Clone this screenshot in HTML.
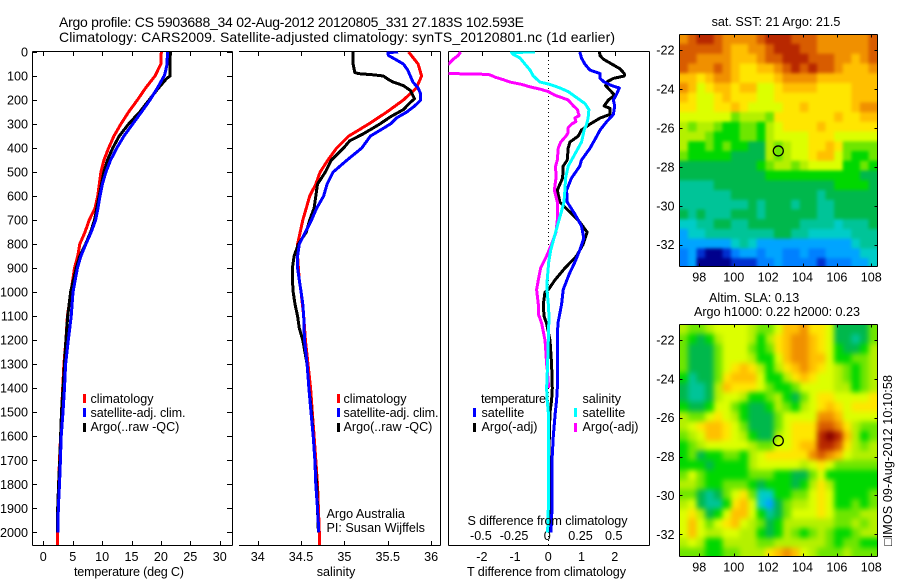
<!DOCTYPE html>
<html lang="en">
<head>
<meta charset="utf-8">
<title>Argo profile 5903688_34</title>
<style>
html,body{margin:0;padding:0;background:#fff;}
svg{display:block;}
text{font-family:"Liberation Sans",sans-serif;font-size:12.6px;fill:#000;}
.title{font-size:14px;}
</style>
</head>
<body>
<svg id="figure" xmlns="http://www.w3.org/2000/svg" width="900" height="580" viewBox="0 0 900 580">
<defs>
<clipPath id="clip-temp"><rect x="32.5" y="51.5" width="200" height="494"/></clipPath>
<clipPath id="clip-sal"><rect x="239" y="51.5" width="202" height="494"/></clipPath>
<clipPath id="clip-diff"><rect x="448.5" y="51.5" width="201" height="494"/></clipPath>
<clipPath id="clip-sst"><rect x="679.5" y="34.5" width="198" height="232"/></clipPath>
<clipPath id="clip-sla"><rect x="679.5" y="324.5" width="198" height="232"/></clipPath>
<filter id="soften-sst" filterUnits="userSpaceOnUse" x="650" y="5" width="250" height="290" color-interpolation-filters="sRGB"><feGaussianBlur stdDeviation="1.6"/></filter>
<filter id="soften-sla" filterUnits="userSpaceOnUse" x="650" y="295" width="250" height="285" color-interpolation-filters="sRGB"><feGaussianBlur stdDeviation="2.6"/></filter>
</defs>
<rect x="0" y="0" width="900" height="580" fill="#fff"/>

<text class="title" x="59" y="27" textLength="465">Argo profile: CS 5903688_34 02-Aug-2012 20120805_331 27.183S 102.593E</text>
<text class="title" x="59" y="42" textLength="556">Climatology: CARS2009. Satellite-adjusted climatology: synTS_20120801.nc (1d earlier)</text>

<g id="panel-temp"></g>
<g id="panel-sal"></g>
<g id="panel-diff"></g>
<g id="map-sst"></g>
<g id="map-sla"></g>

<text x="74" y="576" textLength="110">temperature (deg C)</text>
<text x="336" y="576" text-anchor="middle">salinity</text>
<text x="467" y="576" textLength="159">T difference from climatology</text>
<text x="467.5" y="525" textLength="160">S difference from climatology</text>

<g>
<rect x="83" y="394" width="3" height="9" fill="#f00"/>
<text x="90.5" y="403">climatology</text>
<rect x="83" y="408" width="3" height="9" fill="#00f"/>
<text x="90.5" y="417" textLength="95">satellite-adj. clim.</text>
<rect x="83" y="423" width="3" height="9" fill="#000"/>
<text x="90.5" y="431">Argo(..raw -QC)</text>
</g>
<g>
<rect x="337" y="394" width="3" height="9" fill="#f00"/>
<text x="343.5" y="403">climatology</text>
<rect x="337" y="408" width="3" height="9" fill="#00f"/>
<text x="343.5" y="417" textLength="95">satellite-adj. clim.</text>
<rect x="337" y="423" width="3" height="9" fill="#000"/>
<text x="343.5" y="431">Argo(..raw -QC)</text>
</g>
<g>
<text x="481" y="403" textLength="65">temperature</text>
<rect x="473" y="408" width="3" height="9" fill="#00f"/>
<text x="481.5" y="417">satellite</text>
<rect x="473" y="423" width="3" height="9" fill="#000"/>
<text x="481.5" y="431">Argo(-adj)</text>
<text x="582.5" y="403">salinity</text>
<rect x="574" y="408" width="3" height="9" fill="#0ff"/>
<text x="582.5" y="417">satellite</text>
<rect x="574" y="423" width="3" height="9" fill="#f0f"/>
<text x="582.5" y="431">Argo(-adj)</text>
</g>

<text x="326.5" y="518">Argo Australia</text>
<text x="326.5" y="532">PI: Susan Wijffels</text>

<text x="776" y="26" text-anchor="middle">sat. SST: 21 Argo: 21.5</text>
<text x="709" y="302">Altim. SLA: 0.13</text>
<text x="694" y="316" textLength="166">Argo h1000: 0.22 h2000: 0.23</text>
<text transform="translate(892,546) rotate(-90)" textLength="171">&#9633;IMOS 09-Aug-2012 10:10:58</text>
</svg>

<script>
// ---- profile panel ticks ----
const depthTicks = [0,100,200,300,400,500,600,700,800,900,1000,1100,1200,1300,1400,1500,1600,1700,1800,1900,2000];
const tempTicks = [0,5,10,15,20,25,30];
const salTicks = [34,34.5,35,35.5,36];
const tDiffTicks = [-2,-1,0,1,2];
const tDiffTopTicks = [-2,0,2];
const sDiffTicks = [-0.5,-0.25,0,0.25,0.5];
const sDiffTickLabels = ['-0.5','-0.25','0','0.25','0.5'];
const lonTicks = [98,100,102,104,106,108];
const latTicks = [-22,-24,-26,-28,-30,-32];

// ---- temperature profiles (depth m, deg C) ----
const tempClimDepths = [0,50,100,150,200,250,300,350,400,450,500,600,650,700,750,800,850,900,1000,1100,1200,1300,1400,1500,1600,1700,1800,1900,2000,2052];
const tempClimValues = [20.07,20,19,17.4,16,14.5,13.2,12,11.1,10.3,9.8,9.25,8.8,7.8,7.1,6.2,5.85,5.3,4.7,4.1,3.85,3.5,3.3,3.1,2.95,2.75,2.6,2.5,2.4,2.4];
const tempArgoDepths = [0,100,110,150,200,250,300,350,400,450,500,550,600,650,700,750,800,850,900,1000,1100,1200,1300,1400,1500,1600,1700,1800,1900,2000];
const tempArgoValues = [21.6,21.55,21,19.6,18,16.4,14.5,12.9,11.8,10.9,10.3,9.9,9.5,9.1,8.7,8.05,7.2,6.2,5.6,4.65,4.15,3.85,3.6,3.35,3.1,2.95,2.8,2.6,2.45,2.4];
const tempSatDepths = [0,50,90,100,150,200,250,300,350,400,450,500,550,600,650,700,750,800,850,900,1000,1100,1200,1300,1400,1500,1600,1700,1800,1900,2000];
const tempSatValues = [21.1,21.05,20.7,20.55,19.4,18.15,16.7,15.2,13.7,12.5,11.45,10.65,10.05,9.65,9.3,8.9,8.15,7.25,6.4,5.8,5.05,4.75,4.25,3.8,3.6,3.35,3.05,2.9,2.75,2.55,2.5];

// ---- salinity profiles ----
const salClimDepths = [0,50,100,150,200,250,300,350,400,450,500,550,600,650,700,750,800,850,900,950,1000,1050,1100,1200,1300,1400,1500,1600,1700,1800,1900,2000,2052];
const salClimValues = [35.74,35.85,35.89,35.83,35.68,35.49,35.28,35.05,34.91,34.81,34.72,34.67,34.6,34.56,34.52,34.49,34.46,34.46,34.47,34.48,34.5,34.515,34.53,34.55,34.58,34.61,34.63,34.65,34.67,34.69,34.7,34.71,34.71];
const salArgoDepths = [0,50,85,90,95,100,115,125,140,160,195,210,240,270,300,340,370,400,450,500,550,600,650,700,750,800,850,900,950,1000,1050,1100,1150,1200,1300,1400,1500,1600,1700,1800,1900,2000];
const salArgoValues = [35.1,35.1,35.12,35.16,35.33,35.45,35.51,35.56,35.68,35.76,35.81,35.76,35.68,35.53,35.41,35.22,35.06,34.99,34.85,34.78,34.69,34.67,34.65,34.6,34.56,34.47,34.42,34.4,34.4,34.41,34.43,34.46,34.48,34.52,34.57,34.59,34.62,34.64,34.66,34.68,34.69,34.7];
const salSatDepths = [0,2,5,15,25,50,75,100,125,150,175,200,225,250,275,300,350,400,450,500,550,600,650,700,750,800,850,900,950,1000,1050,1100,1200,1300,1400,1500,1600,1700,1800,1900,2000];
const salSatValues = [35.62,35.51,35.5,35.51,35.56,35.68,35.73,35.76,35.79,35.85,35.88,35.88,35.81,35.72,35.6,35.53,35.3,35.2,35.03,34.87,34.8,34.76,34.68,34.62,34.55,34.48,34.46,34.46,34.48,34.5,34.52,34.53,34.54,34.57,34.59,34.615,34.64,34.66,34.67,34.69,34.705];

// ---- difference-from-climatology profiles ----
const tDiffArgoDepths = [0,15,30,50,70,90,100,110,125,140,160,180,200,225,235,260,275,300,325,350,375,400,450,475,525,575,625,650,700,750,800,850,900,950,990,1000,1050,1100,1130,1200,1300,1400,1450,1500,1600,1700,1800,1900,2000];
const tDiffArgoValues = [1.54,1.56,1.66,1.91,2.16,2.29,2.29,1.96,1.76,1.73,1.86,2,1.81,1.68,1.86,1.86,1.56,1.26,1,0.9,0.65,0.6,0.57,0.45,0.43,0.27,0.35,0.53,0.9,1.17,1.05,0.85,0.5,0.2,0,-0.1,-0.15,-0.13,-0.05,0.05,0.1,0.12,0.1,0.05,0.03,0.02,0.03,0.05,0.05];
const tDiffSatDepths = [0,25,50,75,90,110,125,140,150,175,200,225,260,290,325,350,400,450,475,525,575,625,675,725,775,825,875,925,990,1050,1100,1130,1200,1300,1400,1450,1500,1550,1600,1700,1800,1900,2000];
const tDiffSatValues = [0.95,1,1.1,1.25,1.56,1.56,1.68,1.91,2.14,2.06,1.96,2,1.96,1.76,1.56,1.46,1.26,1,0.95,0.7,0.55,0.57,0.8,1,1.07,0.95,0.8,0.63,0.45,0.4,0.33,0.29,0.27,0.28,0.27,0.25,0.21,0.18,0.15,0.11,0.11,0.11,0.08];
const sDiffArgoDepths = [0,15,30,50,70,90,92,95,105,115,125,135,145,155,165,180,190,200,225,240,255,265,275,290,300,315,335,350,375,400,450,475,525,575,625,700,750,800,850,900,950,990,1050,1090,1130,1200,1250,1300,1320,1400];
const sDiffArgoValues = [-0.66,-0.68,-0.715,-0.75,-1,-0.74,-0.515,-0.44,-0.4,-0.34,-0.29,-0.2,-0.14,-0.06,0,0.05,0.1,0.15,0.19,0.22,0.226,0.233,0.2,0.208,0.176,0.15,0.15,0.133,0.093,0.075,0.068,0.055,0.058,0.045,0.068,0.068,0.058,0.025,-0.013,-0.058,-0.075,-0.088,-0.075,-0.075,-0.05,-0.025,-0.018,-0.013,-0.008,0.003];
const sDiffSatDepths = [0,2,10,25,50,75,100,125,135,150,165,190,215,240,275,300,325,375,425,475,525,575,625,675,725,775,825,875,950,1000,1050,1100,1200,1300,1400,1450,1500,1600,1700,1800,1900,2000];
const sDiffSatValues = [-0.1,-0.276,-0.264,-0.213,-0.176,-0.138,-0.113,-0.063,0.013,0.088,0.15,0.213,0.276,0.306,0.3,0.289,0.27,0.25,0.2,0.15,0.13,0.125,0.118,0.093,0.068,0.043,0.018,0.003,-0.008,-0.008,0,0.005,0,-0.005,-0.013,-0.008,0,0,0,0,0,-0.005];

// ---- map fields: colour level per half-degree cell, north to south ----
const sstLevels = [
[13,14,15,15,14,13,13,13,13,14,15,15,15,14,14,14,13,13,13,13,13,13,14],
[14,14,14,14,14,13,12,12,13,13,14,15,15,15,14,14,13,13,13,13,13,13,14],
[14,14,13,13,13,13,12,12,12,13,14,14,15,15,15,14,14,14,13,13,12,13,14],
[14,13,13,13,14,13,12,11,11,12,12,13,14,15,14,15,14,14,13,12,12,12,13],
[12,12,11,12,13,13,12,11,11,11,11,12,13,13,13,13,12,12,12,12,12,12,12],
[13,12,10,11,12,12,11,12,12,10,10,11,12,12,12,12,11,11,11,11,12,12,12],
[12,11,10,10,11,12,11,11,11,10,10,11,11,11,11,11,11,11,11,11,12,12,12],
[11,11,10,10,11,11,12,11,10,10,10,10,11,11,12,11,11,11,11,11,12,13,13],
[10,10,10,10,10,10,8,9,9,9,8,11,11,11,11,11,11,11,12,11,11,12,12],
[9,8,9,9,8,7,7,8,8,7,9,10,11,11,11,11,12,11,11,11,11,11,11],
[9,9,9,8,7,7,7,8,8,7,9,10,10,10,10,11,11,11,10,10,10,10,10],
[9,7,7,8,7,8,7,7,6,6,9,8,9,10,10,11,11,12,11,8,8,8,8],
[8,7,7,7,7,7,6,6,6,6,9,8,9,10,10,11,12,12,10,8,7,7,8],
[6,6,6,6,6,6,6,6,6,7,8,9,9,8,9,10,10,10,10,7,7,8,7],
[6,6,6,6,6,6,6,6,6,6,7,7,7,7,7,7,7,7,7,7,7,6,6],
[5,5,5,5,6,6,6,6,6,6,6,6,6,6,6,6,6,6,7,7,7,7,6],
[5,5,5,5,5,5,6,6,6,6,6,6,6,6,6,6,5,6,6,6,6,6,6],
[5,5,5,5,5,5,5,5,6,5,6,6,6,5,6,6,5,5,6,6,6,6,6],
[6,5,6,5,5,5,6,6,6,5,6,6,6,6,6,6,5,5,6,6,6,6,6],
[4,4,5,5,6,6,5,5,6,6,6,6,6,6,5,5,5,5,4,5,5,5,6],
[3,4,4,5,5,5,5,5,5,5,5,6,6,5,5,4,4,4,4,4,5,5,5],
[3,3,3,3,3,3,4,5,4,3,3,3,3,3,3,3,3,3,3,3,4,5,5],
[2,3,1,0,0,1,2,3,3,2,3,3,2,2,3,2,2,3,3,3,3,4,4],
[2,3,0,0,0,0,1,1,1,2,2,3,2,2,2,2,1,2,2,2,3,3,4]
];
const slaLevels = [
[9,8,8,9,10,10,10,10,9,8,8,10,12,12,13,11,11,10,6,6,6,6,8],
[8,7,6,7,9,10,10,10,9,7,9,11,12,13,13,12,11,10,6,6,5,6,8],
[8,6,6,6,8,10,10,10,8,7,8,11,12,13,13,12,11,10,7,6,6,7,9],
[8,6,6,6,8,10,10,10,9,7,7,10,12,13,13,12,12,10,7,7,8,8,9],
[8,6,6,6,8,10,11,12,11,9,7,9,11,12,13,12,11,10,9,8,7,8,9],
[7,5,6,6,8,11,12,12,12,10,7,7,9,11,12,11,10,10,9,8,7,8,9],
[6,5,5,6,9,12,11,11,11,10,8,7,7,8,10,10,10,10,9,9,7,8,9],
[6,5,5,6,9,10,10,9,7,7,8,9,7,6,8,10,11,11,10,10,10,10,11],
[7,6,6,7,10,10,8,7,6,6,7,9,8,7,9,10,11,12,11,10,11,11,11],
[9,8,8,10,11,10,9,7,6,6,6,8,10,10,10,10,13,13,12,10,10,10,10],
[9,10,11,12,12,11,10,8,6,6,6,8,10,11,11,11,14,14,13,11,9,8,8],
[8,9,10,12,12,11,10,9,7,6,6,9,10,11,11,11,15,16,15,12,9,7,8],
[7,8,9,10,10,10,10,10,9,8,8,10,10,11,12,12,15,15,14,11,9,8,9],
[7,8,6,7,7,8,8,7,9,10,11,11,11,11,11,13,14,13,12,10,9,9,9],
[7,7,7,6,7,7,7,7,9,10,10,10,10,10,9,10,11,10,8,8,8,8,8],
[8,10,8,7,7,7,7,7,8,8,8,7,7,6,6,8,10,7,7,7,7,7,7],
[9,9,8,7,7,8,8,8,7,6,7,7,7,6,7,9,11,9,7,7,7,7,7],
[8,8,6,5,6,8,10,11,8,4,4,7,7,8,8,10,11,10,7,7,7,7,8],
[9,10,6,5,5,7,11,12,10,4,3,6,8,9,9,10,11,10,7,7,8,7,8],
[10,11,9,6,7,10,12,12,10,7,5,6,8,10,10,10,11,10,8,8,8,9,9],
[10,12,10,8,10,11,12,10,9,8,6,7,9,9,9,9,9,9,8,8,9,8,9],
[10,12,10,9,9,10,10,9,9,7,6,7,9,8,7,8,9,8,7,7,8,9,9],
[9,10,9,7,7,9,9,9,9,8,8,9,9,9,9,9,9,8,7,8,8,7,7],
[8,8,8,7,7,8,8,9,9,9,11,12,13,12,10,9,8,8,8,9,8,8,8]
];
const argoLon = 102.593;
const argoLat = -27.183;

// ---- presentation (not data) ----
const levelColors = ['#00008c','#0030d0','#0080ff','#00a4ff','#00ccc8','#00c498','#00b84c','#00d800','#6ee600','#b4f000','#dcff00','#ffe600','#ffc000','#f09000','#d85c00','#b82800','#880000'];
const NS = 'http://www.w3.org/2000/svg';
const EDGE_BLEED = 10;

function make(parent, tag, attrs, content) {
  const el = document.createElementNS(NS, tag);
  for (const k in attrs) el.setAttribute(k, attrs[k]);
  if (content !== undefined) el.textContent = content;
  parent.appendChild(el);
  return el;
}

// axis functions
const depthY = d => 52 + d * 0.24015;
const tempX = t => 43.3 + t * 5.88;
const salX = s => 257.7 + (s - 34) * 86.7;
const tDiffX = t => 548.3 + t * 33.2;
const sDiffX = s => 548.3 + s * 132.8;
const lonX = lon => 699.3 + (lon - 98) * 17.2;
const sstLatY = lat => 50 + (-22 - lat) * 19.47;
const slaLatY = lat => 340 + (-22 - lat) * 19.43;

function seg(parent, x1, y1, x2, y2, name) {
  const l = make(parent, 'line', {x1: x1, y1: y1, x2: x2, y2: y2, stroke: '#000', 'stroke-width': 1, 'shape-rendering': 'crispEdges'});
  
  
  return l;
}

function tickLabel(parent, x, y, anchor, txt, name) {
  const t = make(parent, 'text', {x: x, y: y, 'text-anchor': anchor}, txt);
  
  
  return t;
}

function drawProfile(parent, depths, values, xFn, color, clip, width, name) {
  const pts = depths.map((d, i) => xFn(values[i]).toFixed(1) + ',' + depthY(d).toFixed(1)).join(' ');
  const p = make(parent, 'polyline', {points: pts, fill: 'none', stroke: color, 'stroke-width': width, 'stroke-linejoin': 'round', 'shape-rendering': 'crispEdges', 'clip-path': 'url(#' + clip + ')'});
  
  
  return p;
}

// ---- temperature panel ----
const gTemp = document.getElementById('panel-temp');
seg(gTemp, 32.5, 51.5, 232.5, 51.5, 'top-axis-line');
seg(gTemp, 32.5, 545.5, 232.5, 545.5, 'bottom-axis-line');
seg(gTemp, 32.5, 51.5, 32.5, 545.5, 'left-axis-line');
seg(gTemp, 232.5, 51.5, 232.5, 545.5, 'right-axis-line');
depthTicks.forEach(d => {
  const y = Math.round(depthY(d)) + 0.5;
  seg(gTemp, 32.5, y, 37, y, 'depth-tick');
  seg(gTemp, 227, y, 232.5, y, 'depth-tick');
  tickLabel(gTemp, 28, depthY(d) + 4.5, 'end', String(d), 'depth-tick-label');
});
tempTicks.forEach(t => {
  const x = Math.round(tempX(t)) + 0.5;
  seg(gTemp, x, 51.5, x, 56, 'temperature-tick');
  seg(gTemp, x, 541, x, 545.5, 'temperature-tick');
  tickLabel(gTemp, tempX(t), 561, 'middle', String(t), 'temperature-tick-label');
});
drawProfile(gTemp, tempClimDepths, tempClimValues, tempX, '#f00', 'clip-temp', 3, 'temperature-climatology-line');
drawProfile(gTemp, tempArgoDepths, tempArgoValues, tempX, '#000', 'clip-temp', 3, 'temperature-argo-line');
drawProfile(gTemp, tempSatDepths, tempSatValues, tempX, '#00f', 'clip-temp', 3, 'temperature-satellite-line');

// ---- salinity panel ----
const gSal = document.getElementById('panel-sal');
seg(gSal, 239, 51.5, 440.5, 51.5, 'top-axis-line');
seg(gSal, 239, 545.5, 440.5, 545.5, 'bottom-axis-line');
seg(gSal, 440.5, 51.5, 440.5, 545.5, 'right-axis-line');
salTicks.forEach(s => {
  const x = Math.round(salX(s)) + 0.5;
  seg(gSal, x, 51.5, x, 56, 'salinity-tick');
  seg(gSal, x, 541, x, 545.5, 'salinity-tick');
  tickLabel(gSal, salX(s), 561, 'middle', String(s), 'salinity-tick-label');
});
drawProfile(gSal, salClimDepths, salClimValues, salX, '#f00', 'clip-sal', 3, 'salinity-climatology-line');
drawProfile(gSal, salArgoDepths, salArgoValues, salX, '#000', 'clip-sal', 3, 'salinity-argo-line');
drawProfile(gSal, salSatDepths, salSatValues, salX, '#00f', 'clip-sal', 3, 'salinity-satellite-line');

// ---- difference panel ----
const gDiff = document.getElementById('panel-diff');
seg(gDiff, 448.5, 51.5, 649.5, 51.5, 'top-axis-line');
seg(gDiff, 448.5, 545.5, 649.5, 545.5, 'bottom-axis-line');
seg(gDiff, 448.5, 51.5, 448.5, 545.5, 'left-axis-line');
seg(gDiff, 649.5, 51.5, 649.5, 545.5, 'right-axis-line');
tDiffTopTicks.forEach(t => {
  const x = Math.round(tDiffX(t)) + 0.5;
  seg(gDiff, x, 51.5, x, 56, 'difference-tick');
});
tDiffTicks.forEach(t => {
  tickLabel(gDiff, tDiffX(t), 561, 'middle', String(t), 't-difference-tick-label');
});
sDiffTicks.forEach((s, i) => {
  tickLabel(gDiff, sDiffX(s) - 1, 540, 'middle', sDiffTickLabels[i], 's-difference-tick-label');
});
const zeroLine = make(gDiff, 'line', {x1: 548.5, y1: 52, x2: 548.5, y2: 545, stroke: '#000', 'stroke-width': 1, 'stroke-dasharray': '1 3', 'shape-rendering': 'crispEdges'});


drawProfile(gDiff, tDiffArgoDepths, tDiffArgoValues, tDiffX, '#000', 'clip-diff', 3, 't-difference-argo-line');
drawProfile(gDiff, sDiffArgoDepths, sDiffArgoValues, sDiffX, '#f0f', 'clip-diff', 3, 's-difference-argo-line');
drawProfile(gDiff, tDiffSatDepths, tDiffSatValues, tDiffX, '#00f', 'clip-diff', 3, 't-difference-satellite-line');
drawProfile(gDiff, sDiffSatDepths, sDiffSatValues, sDiffX, '#0ff', 'clip-diff', 3, 's-difference-satellite-line');

// ---- maps ----
const CELL_DEG = 0.5, FIRST_LON = 97.09, FIRST_LAT = -21.44;
function drawMap(parent, levels, latY, left, top, right, bottom, clip, soften, cellName) {
  const clipGroup = make(parent, 'g', {'clip-path': 'url(#' + clip + ')'});
  
  
  const cells = make(clipGroup, 'g', {filter: 'url(#' + soften + ')'});
  
  
  levels.forEach((row, j) => {
    const lat = FIRST_LAT - j * CELL_DEG;
    const y0 = latY(lat + CELL_DEG / 2) - (j === 0 ? EDGE_BLEED : 0);
    const y1 = latY(lat - CELL_DEG / 2) + (j === levels.length - 1 ? EDGE_BLEED : 0);
    row.forEach((lvl, i) => {
      const lon = FIRST_LON + i * CELL_DEG;
      const x0 = lonX(lon - CELL_DEG / 2) - (i === 0 ? EDGE_BLEED : 0);
      const x1 = lonX(lon + CELL_DEG / 2) + (i === row.length - 1 ? EDGE_BLEED : 0);
      const r = make(cells, 'rect', {x: x0.toFixed(2), y: y0.toFixed(2), width: (x1 - x0 + 0.5).toFixed(2), height: (y1 - y0 + 0.5).toFixed(2), fill: levelColors[lvl]});
      
      
    });
  });
  seg(parent, left, top, right, top, 'map-top-edge');
  seg(parent, left, bottom, right, bottom, 'map-bottom-edge');
  seg(parent, left, top, left, bottom, 'map-left-edge');
  seg(parent, right, top, right, bottom, 'map-right-edge');
  lonTicks.forEach(lon => {
    const x = Math.round(lonX(lon)) + 0.5;
    seg(parent, x, top, x, top + 3, 'longitude-tick');
    seg(parent, x, bottom - 3, x, bottom, 'longitude-tick');
    tickLabel(parent, lonX(lon), bottom + 15, 'middle', String(lon), 'longitude-tick-label');
  });
  latTicks.forEach(lat => {
    const y = Math.round(latY(lat)) + 0.5;
    seg(parent, left, y, left + 3, y, 'latitude-tick');
    seg(parent, right - 3, y, right, y, 'latitude-tick');
    tickLabel(parent, left - 5, latY(lat) + 4.5, 'end', String(lat), 'latitude-tick-label');
  });
  const marker = make(parent, 'circle', {cx: lonX(argoLon), cy: latY(argoLat), r: 5, fill: 'none', stroke: '#000', 'stroke-width': 1.3});
  
  
}
drawMap(document.getElementById('map-sst'), sstLevels, sstLatY, 679.5, 34.5, 877.5, 266.5, 'clip-sst', 'soften-sst', 'sst-cell');
drawMap(document.getElementById('map-sla'), slaLevels, slaLatY, 679.5, 324.5, 877.5, 556.5, 'clip-sla', 'soften-sla', 'sla-cell');
</script>
</body>
</html>
